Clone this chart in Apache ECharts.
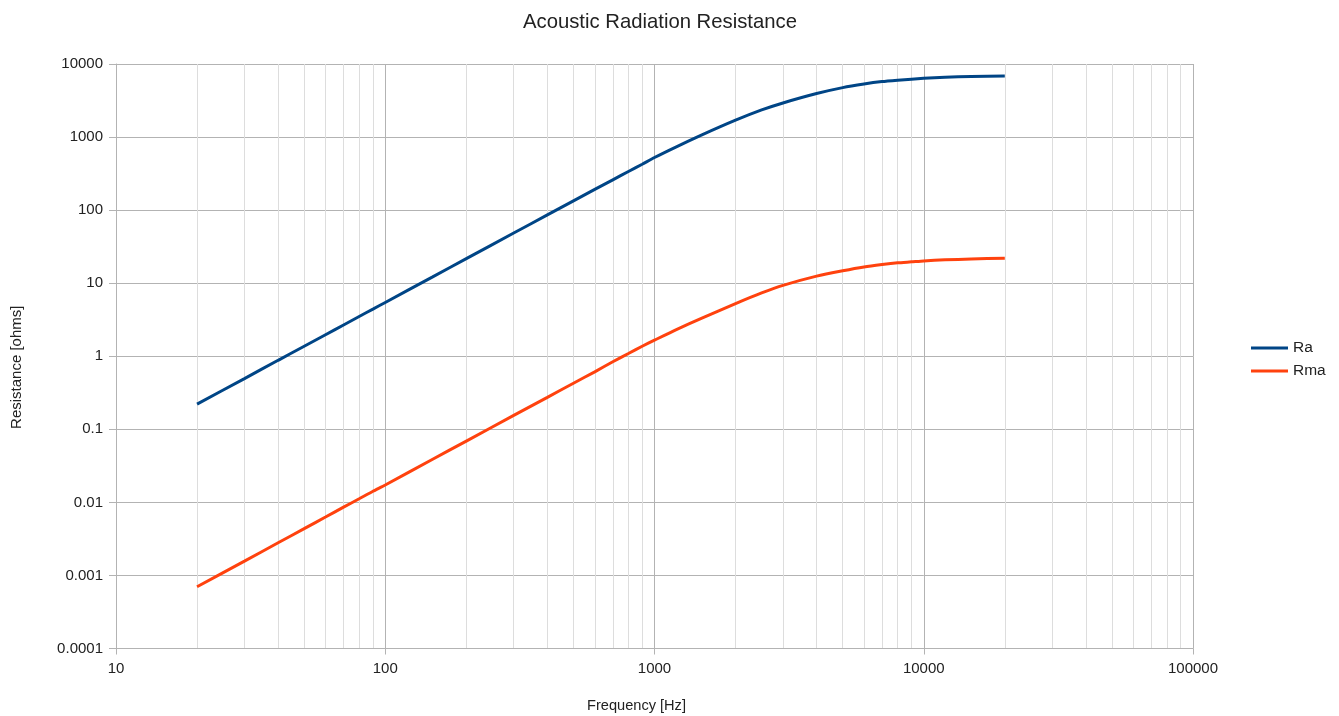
<!DOCTYPE html>
<html>
<head>
<meta charset="utf-8">
<script src="https://cdn.jsdelivr.net/npm/echarts@6/dist/echarts.min.js"></script>
<style>
html,body{margin:0;padding:0;background:#fff;}
#chart{width:1339px;height:716px;}
</style>
</head>
<body>
<div id="chart"></div>
<script>
// Frequencies [Hz]
var freq = [20,30,40,50,60,70,80,90,100,150,200,300,400,500,600,700,800,900,1000,1200,1500,2000,2500,3000,4000,5000,6000,7000,8000,9000,10000,12000,15000,20000];
// Ra [ohms]
var ra = [0.221,0.495,0.88,1.37,1.97,2.68,3.5,4.42,5.45,12.2,21.7,48.6,86,134,192,260,338,425,525,730,1070,1700,2350,2930,3940,4750,5320,5740,6000,6200,6370,6600,6750,6870];
// Rma [ohms]
var rma = [0.0007,0.00157,0.0028,0.00437,0.0063,0.0086,0.0112,0.0142,0.0173,0.0389,0.069,0.155,0.274,0.427,0.612,0.84,1.09,1.37,1.66,2.3,3.33,5.25,7.35,9.35,12.5,14.8,16.7,18.0,19.0,19.6,20.2,20.9,21.4,22.0];
// Tick labels
var xTickLabels = ['10','100','1000','10000','100000'];
var yTickLabels = ['0.0001','0.001','0.01','0.1','1','10','100','1000','10000'];
// Minor x gridline positions
var xMinor = [20,30,40,50,60,70,80,90,200,300,400,500,600,700,800,900,2000,3000,4000,5000,6000,7000,8000,9000,20000,30000,40000,50000,60000,70000,80000,90000];

var font = 'Liberation Sans';
function pairs(xs, ys){ return xs.map(function(x,i){ return [x, ys[i]]; }); }

var chart = echarts.init(document.getElementById('chart'), null, {renderer:'canvas'});
chart.setOption({
  animation:false,
  backgroundColor:'#ffffff',
  title:{
    text:'Acoustic Radiation Resistance',
    left:523, top:12, padding:0,
    textStyle:{fontFamily:font, fontSize:20.3, fontWeight:'normal', color:'#222'}
  },
  legend:{
    orient:'vertical', left:1251, top:340, padding:0,
    itemWidth:37, itemHeight:3, itemGap:7,
    icon:'rect',
    data:['Ra','Rma'],
    textStyle:{fontFamily:font, fontSize:15.5, color:'#222'}
  },
  grid:{left:116, right:146, top:64, bottom:67.5, containLabel:false, outerBoundsMode:'none'},
  xAxis:[{
    type:'log', logBase:10, min:10, max:100000, splitNumber:4,
    name:'Frequency [Hz]', nameLocation:'middle', nameGap:50,
    nameTextStyle:{fontFamily:font, fontSize:14.6, color:'#222', padding:[0,36,0,0]},
    axisLine:{show:true, lineStyle:{color:'#b3b3b3', width:1}},
    axisTick:{show:true, inside:false, length:6, lineStyle:{color:'#b3b3b3'}},
    axisLabel:{fontFamily:font, fontSize:15, color:'#222', margin:13,
      formatter:function(v){ return xTickLabels[Math.round(Math.log10(v))-1]; }},
    splitLine:{show:true, lineStyle:{color:'#b3b3b3', width:1}},
    z:1
  },{
    type:'log', logBase:10, min:10, max:100000, position:'bottom',
    axisLine:{show:false},
    axisTick:{show:false, customValues:xMinor},
    axisLabel:{show:false, customValues:xMinor},
    splitLine:{show:true, lineStyle:{color:'#dddddd', width:1}},
    z:0
  }],
  yAxis:{
    type:'log', logBase:10, min:0.0001, max:10000, splitNumber:8,
    name:'Resistance [ohms]', nameLocation:'middle', nameGap:92, nameRotate:90,
    nameTextStyle:{fontFamily:font, fontSize:15, color:'#222', padding:[0,22,0,0]},
    axisLine:{show:true, lineStyle:{color:'#b3b3b3', width:1}},
    axisTick:{show:true, inside:false, length:7, lineStyle:{color:'#b3b3b3'}},
    axisLabel:{fontFamily:font, fontSize:15, color:'#222', margin:13,
      formatter:function(v){ return yTickLabels[Math.round(Math.log10(v))+4]; }},
    splitLine:{show:true, lineStyle:{color:'#b3b3b3', width:1}}
  },
  series:[
    {name:'Ra', type:'line', xAxisIndex:0, data:pairs(freq, ra), symbol:'none', showSymbol:false,
     smooth:0.2,
     lineStyle:{color:'#004586', width:3}, itemStyle:{color:'#004586'}, z:3},
    {name:'Rma', type:'line', xAxisIndex:0, data:pairs(freq, rma), symbol:'none', showSymbol:false,
     smooth:0.2,
     lineStyle:{color:'#ff420e', width:3}, itemStyle:{color:'#ff420e'}, z:3}
  ]
});
</script>
</body>
</html>
